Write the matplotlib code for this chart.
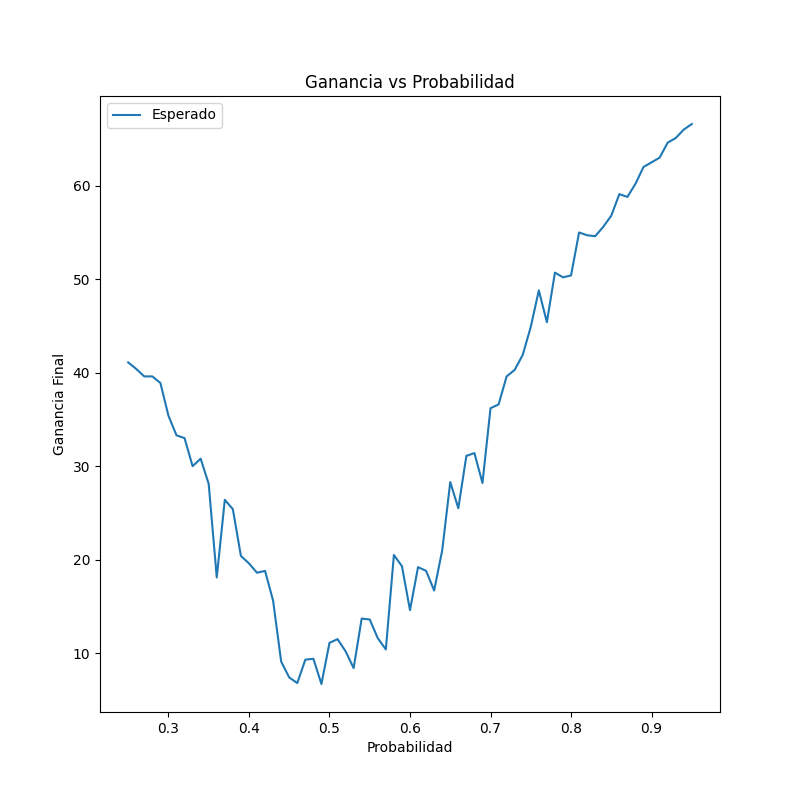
import numpy as np
import matplotlib
matplotlib.use("Agg")
import matplotlib.pyplot as plt

probabilidad = [round(0.25 + 0.01 * i, 2) for i in range(71)]
ganancia = [41.1, 40.4, 39.6, 39.6, 38.9, 35.4, 33.3, 33.0, 30.0, 30.8,
            28.1, 18.1, 26.4, 25.4, 20.4, 19.6, 18.6, 18.8, 15.6, 9.1,
            7.4, 6.8, 9.3, 9.4, 6.7, 11.1, 11.5, 10.2, 8.4, 13.7,
            13.6, 11.6, 10.4, 20.5, 19.3, 14.6, 19.2, 18.8, 16.7, 21.0,
            28.3, 25.5, 31.1, 31.4, 28.2, 36.2, 36.6, 39.6, 40.3, 41.9,
            44.9, 48.8, 45.4, 50.7, 50.2, 50.4, 55.0, 54.7, 54.6, 55.6,
            56.8, 59.1, 58.8, 60.2, 62.0, 62.5, 63.0, 64.6, 65.1, 66.0,
            66.6]

fig, ax = plt.subplots(figsize=(8, 8), dpi=100)
ax.plot(probabilidad, ganancia, label="Esperado")
ax.set_title("Ganancia vs Probabilidad")
ax.set_xlabel("Probabilidad")
ax.set_ylabel("Ganancia Final")
ax.legend(loc="upper left")
fig.savefig("out.png")
